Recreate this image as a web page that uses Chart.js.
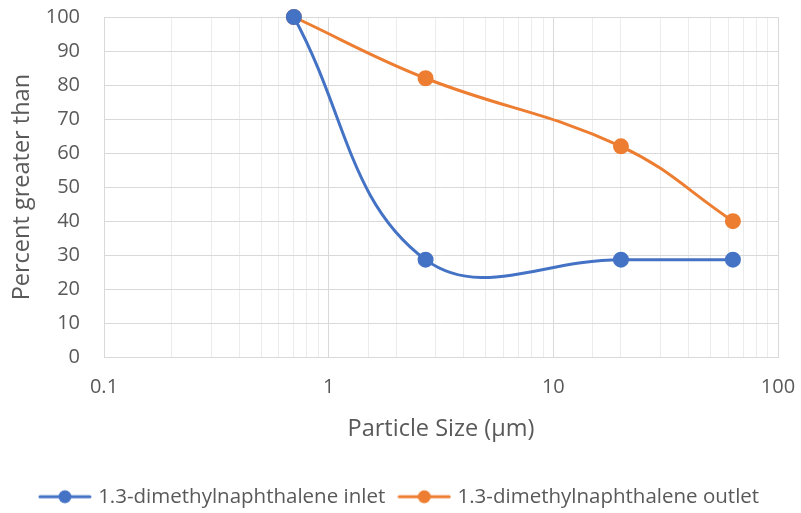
<!DOCTYPE html>
<html>
<head>
<meta charset="utf-8">
<script src="https://cdn.jsdelivr.net/npm/chart.js@4/dist/chart.umd.min.js"></script>
<style>
  html, body { margin: 0; padding: 0; background: #fff; }
  #wrap { width: 801px; height: 513px; }
</style>
</head>
<body>
<div id="wrap"><canvas id="chart" width="801" height="513"></canvas></div>
<script>
// data
const particleSizes = [0.7, 2.7, 20, 63];
const inletPercent = [100, 28.7, 28.7, 28.7];
const outletPercent = [100, 82, 62, 40];
const seriesNames = ['1.3-dimethylnaphthalene inlet', '1.3-dimethylnaphthalene outlet'];
const seriesColors = ['#4472C4', '#ED7D31'];

const textColor = '#595959';
const fontFamily = '"Open Sans", "Liberation Sans", sans-serif';

function isDecade(v) {
    const l = Math.log10(v);
    return Math.abs(l - Math.round(l)) < 1e-9;
}

// legend marker: short line with a dot in the middle
function legendMarker(color) {
    const c = document.createElement('canvas');
    c.width = 54; c.height = 16;
    const g = c.getContext('2d');
    g.strokeStyle = color;
    g.lineWidth = 3;
    g.lineCap = 'round';
    g.beginPath();
    g.moveTo(2, 8); g.lineTo(52, 8);
    g.stroke();
    g.fillStyle = color;
    g.beginPath();
    g.arc(27, 8, 6.5, 0, Math.PI * 2);
    g.fill();
    return c;
}

const toPoints = (ys) => particleSizes.map((x, i) => ({ x: x, y: ys[i] }));

const ctx = document.getElementById('chart').getContext('2d');
new Chart(ctx, {
    type: 'line',
    data: {
        datasets: [
            {
                label: seriesNames[0],
                data: toPoints(inletPercent),
                borderColor: seriesColors[0],
                backgroundColor: seriesColors[0],
                borderWidth: 3,
                pointRadius: 6.5,
                pointHoverRadius: 6.5,
                tension: 0.4,
                clip: false,
                marker: legendMarker(seriesColors[0])
            },
            {
                label: seriesNames[1],
                data: toPoints(outletPercent),
                borderColor: seriesColors[1],
                backgroundColor: seriesColors[1],
                borderWidth: 3,
                pointRadius: 6.5,
                pointHoverRadius: 6.5,
                tension: 0.4,
                clip: false,
                marker: legendMarker(seriesColors[1])
            }
        ]
    },
    options: {
        responsive: false,
        animation: false,
        layout: { autoPadding: false, padding: { left: 0, right: 0, top: 0, bottom: -4 } },
        scales: {
            x: {
                type: 'logarithmic',
                min: 0.1,
                max: 100,
                afterFit: (scale) => { scale.paddingLeft = 0; scale.paddingRight = 23; },
                grid: {
                    color: (c) => (c.tick && isDecade(c.tick.value)) ? '#d9d9d9' : '#ececec',
                    lineWidth: 1,
                    drawTicks: false
                },
                border: { color: '#d9d9d9' },
                ticks: {
                    autoSkip: false,
                    maxRotation: 0,
                    padding: 18,
                    color: textColor,
                    font: { family: fontFamily, size: 20 },
                    callback: (v) => isDecade(v) ? String(v) : ''
                },
                title: {
                    display: true,
                    text: 'Particle Size (μm)',
                    color: textColor,
                    font: { family: fontFamily, size: 23.5 },
                    padding: { top: -2, bottom: 27 }
                }
            },
            y: {
                min: 0,
                max: 100,
                afterFit: (scale) => { scale.width = 104; scale.paddingTop = 17; scale.paddingBottom = 0; },
                grid: { color: '#d9d9d9', drawTicks: false },
                border: { color: '#d9d9d9' },
                ticks: {
                    stepSize: 10,
                    padding: 24,
                    color: textColor,
                    font: { family: fontFamily, size: 20 }
                },
                title: {
                    display: true,
                    text: 'Percent greater than',
                    color: textColor,
                    font: { family: fontFamily, size: 23.5 },
                    padding: { top: 8, bottom: 9 }
                }
            }
        },
        plugins: {
            legend: {
                position: 'bottom',
                labels: {
                    usePointStyle: true,
                    pointStyleWidth: 46,
                    color: textColor,
                    font: { family: fontFamily, size: 20.5 },
                    padding: 16,
                    generateLabels: (chart) => chart.data.datasets.map((ds, i) => ({
                        text: ds.label,
                        pointStyle: ds.marker,
                        fillStyle: ds.borderColor,
                        strokeStyle: ds.borderColor,
                        lineWidth: 0,
                        fontColor: textColor,
                        hidden: false,
                        datasetIndex: i
                    }))
                }
            },
            tooltip: { enabled: false }
        }
    }
});
</script>
</body>
</html>
